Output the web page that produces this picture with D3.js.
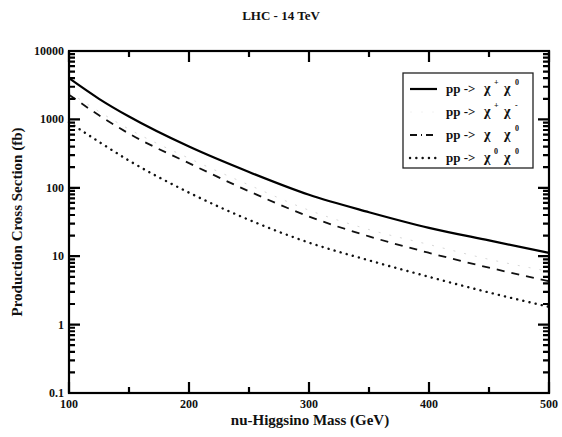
<!DOCTYPE html>
<html><head><meta charset="utf-8">
<script src="https://cdn.jsdelivr.net/npm/d3@7"></script>
<style>body{margin:0;background:#fff}svg{display:block}text{font-family:"Liberation Serif","Times New Roman",serif;font-weight:bold;fill:#111}</style>
</head><body><svg id="c" width="562" height="437"></svg>
<script>
const masses = [100, 125, 150, 200, 250, 300, 350, 400, 450, 500];
const chiPlusChi0 = [4000, 2000, 1100, 400, 170, 79, 44, 26, 17, 11.2];
const chiPlusChiMinus = [2500, 1300, 720, 270, 110, 47, 24.5, 14.8, 9.0, 6.0];
const chiChi0 = [2300, 1150, 620, 229, 89, 38, 19.5, 11.2, 6.8, 4.3];
const chi0Chi0 = [910, 470, 250, 85, 34, 15.8, 8.7, 5.0, 2.95, 1.82];
const xTicks = [100, 200, 300, 400, 500];
const xMinor = [150, 250, 350, 450];
const yTicks = [0.1, 1, 10, 100, 1000, 10000];
const yTickLabels = ["0.1", "1", "10", "100", "1000", "10000"];
const legendLabels = [["pp ->", "χ", "+", "χ", "0"], ["pp ->", "χ", "+", "χ", "-"], ["pp ->", "χ", "", "χ", "0"], ["pp ->", "χ", "0", "χ", "0"]];

const svg = d3.select("#c");
const L = 69, R = 549, T = 51, B = 393;
const x = d3.scaleLinear().domain([100, 500]).range([L, R]);
const y = d3.scaleLog().domain([0.1, 10000]).range([B, T]);
const yMinor = d3.range(-1,4).flatMap(e=>d3.range(2,10).map(k=>k*Math.pow(10,e)));

const series = [
  {v: chiPlusChi0, stroke: "#000", w: 2.2, dash: null},
  {v: chiPlusChiMinus, stroke: "#d8d8d8", w: 1, dash: "2,9"},
  {v: chiChi0, stroke: "#111", w: 1.8, dash: "8,7"},
  {v: chi0Chi0, stroke: "#111", w: 2.4, dash: "0.1,6.2", cap: "round"}
];
const line = d3.line().x((d,i)=>x(masses[i])).y(d=>y(d)).curve(d3.curveMonotoneX);
series.forEach(s=>{
  svg.append("path").datum(s.v).attr("d", line).attr("fill","none")
    .attr("stroke", s.stroke).attr("stroke-width", s.w)
    .attr("stroke-dasharray", s.dash).attr("stroke-linecap", s.cap||"butt");
});

svg.append("rect").attr("x",L).attr("y",T).attr("width",R-L).attr("height",B-T)
  .attr("fill","none").attr("stroke","#000").attr("stroke-width",2.2);

// ticks (inward) drawn as one path
const p = d3.path();
function yt(vals, len){
  vals.forEach(d=>{ const yy=y(d); p.moveTo(L,yy); p.lineTo(L+len,yy); p.moveTo(R,yy); p.lineTo(R-len,yy); });
}
function xt(vals, len){
  vals.forEach(d=>{ const xx=x(d); p.moveTo(xx,B); p.lineTo(xx,B-len); p.moveTo(xx,T); p.lineTo(xx,T+len); });
}
yt(yMinor, 6); yt(yTicks, 11); xt(xMinor, 6); xt(xTicks, 11);
svg.append("path").attr("d", p.toString()).attr("fill","none").attr("stroke","#000").attr("stroke-width",2.2);

svg.append("g").selectAll("text").data(yTicks).enter().append("text")
  .attr("x",L-5).attr("y",d=>y(d)+4).attr("text-anchor","end").attr("font-size",12)
  .text((d,i)=>yTickLabels[i]);
svg.append("g").selectAll("text").data(xTicks).enter().append("text")
  .attr("x",d=>x(d)).attr("y",B+15).attr("text-anchor","middle").attr("font-size",12)
  .text(d=>d3.format("d")(d));

// titles
svg.append("text").attr("x",281).attr("y",20).attr("text-anchor","middle").attr("font-size",13).text("LHC - 14 TeV");
svg.append("text").attr("x",310).attr("y",425).attr("text-anchor","middle").attr("font-size",15).text("nu-Higgsino Mass (GeV)");
svg.append("text").attr("transform","translate(22,222) rotate(-90)").attr("text-anchor","middle").attr("font-size",15).text("Production Cross Section (fb)");

// legend
const lg = svg.append("g");
lg.append("rect").attr("x",403).attr("y",73).attr("width",130).attr("height",95)
  .attr("fill","#fff").attr("stroke","#222").attr("stroke-width",1.3);
const rowY = [89, 112, 135, 158];
series.forEach((s,i)=>{
  lg.append("line").attr("x1",410).attr("x2",437).attr("y1",rowY[i]).attr("y2",rowY[i])
    .attr("stroke", i===1 ? "#f2f2f2" : s.stroke).attr("stroke-width", s.w)
    .attr("stroke-dasharray", i===2 ? "7,4,1,4" : s.dash).attr("stroke-linecap", s.cap||"butt");
  const lab = legendLabels[i];
  const yy = rowY[i]+4;
  lg.append("text").attr("x",446).attr("y",yy).attr("font-size",13).text(lab[0]);
  lg.append("text").attr("x",484).attr("y",yy).attr("font-size",14).text(lab[1]);
  lg.append("text").attr("x",494).attr("y",yy-8).attr("font-size",8).text(lab[2]);
  lg.append("text").attr("x",504).attr("y",yy).attr("font-size",14).text(lab[3]);
  lg.append("text").attr("x",515).attr("y",yy-8).attr("font-size",8).text(lab[4]);
});
</script></body></html>
